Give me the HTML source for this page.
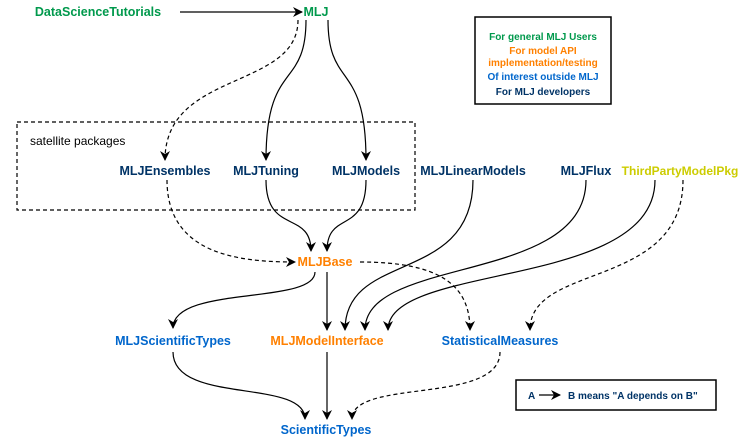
<!DOCTYPE html>
<html><head><meta charset="utf-8"><style>
html,body{margin:0;padding:0;background:#fff;}
svg{display:block;}
text{font-family:"Liberation Sans",Arial,sans-serif;font-weight:bold;}
</style></head><body>
<svg width="742" height="441" viewBox="0 0 742 441" xmlns="http://www.w3.org/2000/svg">
<defs>
<marker id="a" markerWidth="10" markerHeight="10" refX="9" refY="5" orient="auto" markerUnits="userSpaceOnUse">
<path d="M0,0 L10,5 L0,10 L3,5 Z" fill="#000"/></marker>
</defs>
<g fill="none" stroke="#000" stroke-width="1.2">
<rect x="17" y="122" width="398" height="88" stroke-dasharray="4,3"/>
<rect x="475" y="17" width="136" height="87" stroke-width="1.5"/>
<rect x="516" y="380" width="200" height="30" stroke-width="1.5"/>
<path d="M180 12 L302 12" marker-end="url(#a)"/>
<path d="M298 20 C298 90 165 70 165 160" stroke-dasharray="4,3" marker-end="url(#a)"/>
<path d="M306 20 C306 90 266 60 266 160" marker-end="url(#a)"/>
<path d="M328 20 C328 90 366 60 366 160" marker-end="url(#a)"/>
<path d="M167 180 C167 255 240 262 295 262" stroke-dasharray="4,3" marker-end="url(#a)"/>
<path d="M266 180 C266 235 311 210 311 251" marker-end="url(#a)"/>
<path d="M366 180 C366 235 327 210 327 251" marker-end="url(#a)"/>
<path d="M473 180 C473 285 345 250 345 330" marker-end="url(#a)"/>
<path d="M586 180 C586 285 365 255 365 330" marker-end="url(#a)"/>
<path d="M655 180 C655 290 388 262 388 330" marker-end="url(#a)"/>
<path d="M683 180 C683 290 530 262 530 330" stroke-dasharray="4,3" marker-end="url(#a)"/>
<path d="M360 262 C440 262 470 285 470 330" stroke-dasharray="4,3" marker-end="url(#a)"/>
<path d="M315 272 C315 305 173 285 173 328" marker-end="url(#a)"/>
<path d="M327 272 L327 330" marker-end="url(#a)"/>
<path d="M173 352 C173 405 305 378 305 419" marker-end="url(#a)"/>
<path d="M327 352 L327 419" marker-end="url(#a)"/>
<path d="M500 352 C500 405 352 378 352 419" stroke-dasharray="4,3" marker-end="url(#a)"/>
<path d="M539 395 L560 395" marker-end="url(#a)"/>
</g>
<g font-size="12.5" text-anchor="middle">
<text x="98" y="16" fill="#00994C">DataScienceTutorials</text>
<text x="316" y="16" fill="#00994C">MLJ</text>
<text x="165" y="175" fill="#003366">MLJEnsembles</text>
<text x="266" y="175" fill="#003366">MLJTuning</text>
<text x="366" y="175" fill="#003366">MLJModels</text>
<text x="473" y="175" fill="#003366">MLJLinearModels</text>
<text x="586" y="175" fill="#003366">MLJFlux</text>
<text x="680" y="175" fill="#CCCC00" font-size="12">ThirdPartyModelPkg</text>
<text x="325" y="266" fill="#FF8000">MLJBase</text>
<text x="173" y="345" fill="#0066CC">MLJScientificTypes</text>
<text x="327" y="345" fill="#FF8000">MLJModelInterface</text>
<text x="500" y="345" fill="#0066CC">StatisticalMeasures</text>
<text x="326" y="434" fill="#0066CC">ScientificTypes</text>
</g>
<text x="30" y="145" font-size="12" fill="#000" style="font-weight:normal">satellite packages</text>
<g font-size="10" text-anchor="middle">
<text x="543" y="40" fill="#00994C">For general MLJ Users</text>
<text x="543" y="54" fill="#FF8000">For model  API</text>
<text x="543" y="66" fill="#FF8000">implementation/testing</text>
<text x="543" y="80" fill="#0066CC">Of interest outside MLJ</text>
<text x="543" y="95" fill="#003366">For MLJ developers</text>
</g>
<text x="528" y="399" font-size="10" fill="#003366">A</text>
<text x="568" y="399" font-size="10" fill="#003366">B  means "A depends on B"</text>
</svg>
</body></html>
